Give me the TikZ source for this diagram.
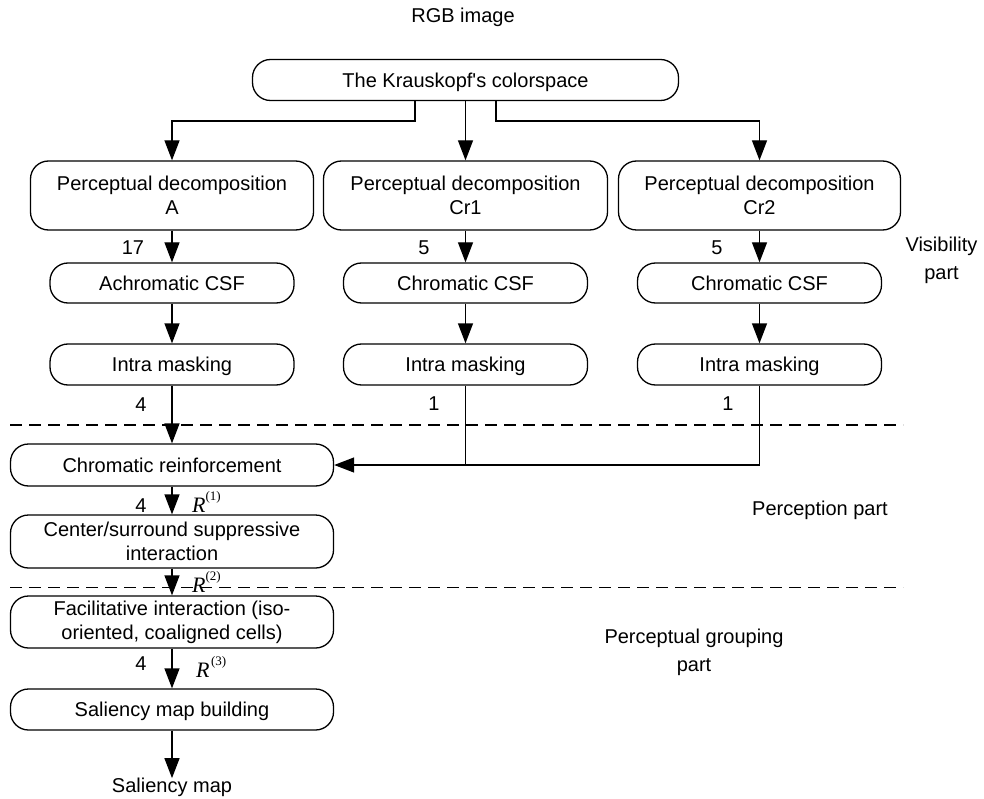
\documentclass[tikz,border=0pt]{standalone}
\usepackage{fontspec}
\setmainfont{Liberation Sans}
\newfontfamily\timesfont{Liberation Serif}
\usetikzlibrary{arrows.meta}
\begin{document}
\begin{tikzpicture}[x=1pt,y=-1pt,
  every node/.style={font=\fontsize{20}{24}\selectfont, inner sep=0pt},
  box/.style={draw, line width=1.3pt, rounded corners=18pt, align=center},
  one/.style={text height=14.3pt, text depth=0pt},
  side/.style={font=\fontsize{20}{28}\selectfont, align=center, anchor=north},
  arr/.style={line width=1.3pt, -{Triangle[length=20pt,width=15pt]}},
  ln/.style={line width=1.3pt},
  sep/.style={line width=1.3pt, dash pattern=on 12pt off 7pt},
  rlab/.style={font=\timesfont\fontsize{22}{22}\selectfont, anchor=base west}
]
\useasboundingbox (0,0) rectangle (984,799);

% top
\node[one] (rgb) at (463,15) {RGB image};
\node[box,one,minimum width=426pt,minimum height=41pt] (kr) at (465.5,80) {The Krauskopf\textquotesingle s colorspace};

% row of decompositions
\node[box,minimum width=283pt,minimum height=69pt] (pdA) at (172,195.5) {Perceptual decomposition\\A};
\node[box,minimum width=284pt,minimum height=69pt] (pdC1) at (465.5,195.5) {Perceptual decomposition\\Cr1};
\node[box,minimum width=282pt,minimum height=69pt] (pdC2) at (759.5,195.5) {Perceptual decomposition\\Cr2};

% CSF
\node[box,one,minimum width=244pt,minimum height=40pt] (csfA) at (172,283) {Achromatic CSF};
\node[box,one,minimum width=244pt,minimum height=40pt] (csf1) at (465.5,283) {Chromatic CSF};
\node[box,one,minimum width=244pt,minimum height=40pt] (csf2) at (759.5,283) {Chromatic CSF};

% intra masking
\node[box,one,minimum width=244pt,minimum height=41pt] (imA) at (172,364.5) {Intra masking};
\node[box,one,minimum width=244pt,minimum height=41pt] (im1) at (465.5,364.5) {Intra masking};
\node[box,one,minimum width=244pt,minimum height=41pt] (im2) at (759.5,364.5) {Intra masking};

% left chain
\node[box,one,minimum width=323pt,minimum height=42pt] (cr) at (172,465) {Chromatic reinforcement};
\node[box,minimum width=323pt,minimum height=53pt] (cs) at (172,541.5) {Center/surround suppressive\\interaction};
\node[box,minimum width=323pt,minimum height=52pt] (fi) at (172,622) {Facilitative interaction (iso-\\oriented, coaligned cells)};
\node[box,one,minimum width=323pt,minimum height=41pt] (sm) at (172,709.5) {Saliency map building};
\node[one] (out) at (172,785.5) {Saliency map};

% side texts
\node[side] (vis) at (941.5,237) {Visibility\\part};
\node[one] (pp) at (820,508) {Perception part};
\node[side] (pg) at (694,629) {Perceptual grouping\\part};

% separators
\draw[sep] (10,425) -- (903,425);
\draw[sep] (10,587.5) -- (903,587.5);

% connectors
\coordinate (bl) at (415,121);
\coordinate (br) at (496,121);
\draw[arr] (kr) -- (pdC1);
\draw[arr] (kr.south -| bl) -- (bl) -| (pdA.north);
\draw[arr] (kr.south -| br) -- (br) -| (pdC2.north);
\draw[arr] (pdA) -- (csfA);
\draw[arr] (pdC1) -- (csf1);
\draw[arr] (pdC2) -- (csf2);
\draw[arr] (csfA) -- (imA);
\draw[arr] (csf1) -- (im1);
\draw[arr] (csf2) -- (im2);
\draw[arr] (imA) -- (cr);
\draw[ln] (im1.south) -- (im1.south |- cr.east);
\draw[arr] (im2.south) |- (cr.east);
\draw[arr] (cr) -- (cs);
\draw[arr] (cs) -- (fi);
\draw[arr] (fi) -- (sm);
\draw[arr] (sm) -- (out);

% numbers
\node (n17) at (133,248) {17};
\node (n5a) at (424,248) {5};
\node (n5b) at (717,248) {5};
\node (n4a) at (141,405) {4};
\node (n1a) at (434,404) {1};
\node (n1b) at (728,404) {1};
\node (n4b) at (141,506) {4};
\node (n4c) at (141,664) {4};

% R labels
\node[rlab] (r1) at (192,512) {{\itshape R}\raisebox{12pt}{\fontsize{13}{13}\selectfont(1)}};
\node[rlab] (r2) at (192,592) {{\itshape R}\raisebox{12pt}{\fontsize{13}{13}\selectfont(2)}};
\node[rlab] (r3) at (196,677) {{\itshape R}\hspace{1.5pt}\raisebox{12pt}{\fontsize{13}{13}\selectfont(3)}};
\end{tikzpicture}
\end{document}
